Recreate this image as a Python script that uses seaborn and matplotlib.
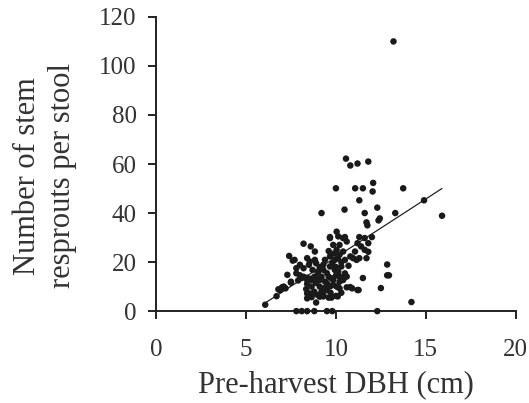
import numpy as np
import pandas as pd
import seaborn as sns
import matplotlib.pyplot as plt

# values: pre-harvest DBH (cm) and resprouts per stool
dbh = [13.2, 10.56, 10.8, 11.2, 11.8, 10.0, 11.07, 11.5, 12.07, 12.04, 13.74, 11.3, 14.9,
       10.48, 9.2, 11.6, 12.3, 13.3, 15.9, 12.44, 12.37, 11.7, 11.75, 11.3, 12.0, 11.8, 11.8,
       8.2, 8.6, 7.4, 7.7, 9.67, 10.04, 10.5, 12.85, 12.85, 12.95, 12.5, 11.5, 11.26,
       6.07, 14.2, 7.8, 8.1, 8.4, 8.8, 9.5, 9.8, 12.3,
       6.7, 6.9, 7.1, 7.5, 8.4, 8.55, 8.75, 8.9, 9.0, 9.2, 9.3, 9.6, 9.75, 10.8, 8.35,
       6.8, 7.0, 7.2, 7.5, 7.6,
       7.8, 8.0, 8.2, 8.4, 8.6, 8.8, 9.0,
       8.2, 8.5, 8.7, 8.9, 9.1, 9.3,
       8.4, 8.65, 8.8, 9.1, 9.3, 9.5, 9.7, 9.85, 10.2, 10.6, 10.9, 11.2,
       8.4, 8.65,
       9.1, 9.4, 9.6, 9.75,
       9.39, 9.67, 9.94, 10.2, 10.04, 9.85, 9.67, 10.13, 10.2, 10.4, 10.6, 10.4, 10.5, 10.8,
       10.96, 11.15, 11.3, 11.06, 11.2, 11.4, 11.6, 11.6, 11.7,
       8.55, 8.83, 9.0, 9.3,
       8.4, 8.65,
       9.1, 9.5, 9.85, 10.04,
       9.67, 9.94, 10.13, 10.3, 10.2,
       10.5, 10.6, 10.4, 10.2,
       8.83, 8.4, 8.0, 7.8,
       10.1, 10.1, 10.0, 10.45, 10.5,
       9.8, 10.0, 10.1, 9.9, 10.3, 9.6, 10.7, 10.0, 9.5, 9.2, 9.0, 8.9, 9.4, 9.7, 10.3,
       8.1, 7.3, 7.9]
sprouts = [110, 62.2, 59.4, 60.2, 61, 50.1, 50.1, 50.1, 52.3, 48.8, 50.1, 45.2, 45.2,
           41.4, 40, 40, 42.2, 40, 38.9, 37.8, 37, 36.2, 35, 30.2, 30.2, 27.7, 24.2,
           27.5, 26.4, 22.5, 20.9, 30.2, 32.4, 30.2, 19, 14.6, 14.6, 9.4, 13.5, 8.6,
           2.6, 3.7, 0, 0, 0, 0, 0, 0, 0,
           6.1, 8.5, 10, 11.6, 7.2, 7.2, 7.2, 3.5, 6.5, 8, 6, 5.5, 5.5, 9.8, 9,
           8.9, 9.7, 9.3, 12, 20.6,
           15.4, 14.6, 14, 13.6, 13.2, 14, 15.4,
           17.5, 18.9, 16.8, 19.5, 17.9, 16.8,
           11.1, 10, 7.9, 5.9, 6.6, 8.6, 10.2, 12.7, 9.3, 9.7, 9.3, 8.6,
           5.2, 5.7,
           12.7, 12, 14, 13.4,
           20.9, 22.3, 20.9, 23, 25, 27, 29.8, 30.5, 27, 24.3, 28.4, 29.8, 20.9, 22.3,
           21.6, 20.9, 21.6, 24.3, 27.7, 26.4, 29.8, 25, 21.6,
           20.2, 20.9, 16.1, 18.9,
           12.7, 12.7,
           10, 11.4, 10.7, 10,
           18.2, 16.8, 16.1, 18.2, 14.1,
           15.4, 14.1, 12.7, 12,
           24.3, 21.6, 18.9, 17.5,
           10, 6, 6.2, 13.5, 14.8,
           19.5, 18, 21.5, 23.5, 20, 24.5, 18.5, 14.5, 15.5, 14, 13, 11.5, 9.5, 7.5, 7.5,
           13.5, 14.8, 12.5]

# fitted line as drawn in the figure
fit_x = np.array([6.06, 15.9])
fit_slope = 4.75
fit_intercept = -25.5

df = pd.DataFrame({"dbh": dbh, "sprouts": sprouts})

sns.set_theme(style="ticks")
plt.rcParams["font.family"] = ["Liberation Serif", "DejaVu Serif"]

fig = plt.figure(figsize=(5.29, 4.03), dpi=100)
ax = fig.add_axes([0.295, 0.228, 0.68, 0.73])

sns.lineplot(x=fit_x, y=fit_intercept + fit_slope * fit_x, color="#222222",
             linewidth=0.9, ax=ax)
sns.scatterplot(data=df, x="dbh", y="sprouts", color="#1a1a1a", s=22,
                edgecolor="none", ax=ax, clip_on=False, zorder=3)

ax.set_xlim(0, 20)
ax.set_ylim(0, 120)
ax.set_xticks([0, 5, 10, 15, 20])
ax.set_yticks(range(0, 121, 20))
sns.despine(ax=ax)
for sp in ["left", "bottom"]:
    ax.spines[sp].set_linewidth(1.4)
    ax.spines[sp].set_color("#222222")
ax.tick_params(axis="both", direction="out", length=6, width=1.4, colors="#222222",
               labelsize=18, labelcolor="#333333")
ax.tick_params(axis="x", pad=14)
ax.tick_params(axis="y", pad=8)

ax.set_xlabel("Pre-harvest DBH (cm)", fontsize=22, color="#333333", labelpad=7)
ax.set_ylabel("Number of stem\nresprouts per stool", fontsize=22, color="#333333",
              linespacing=1.25)
ax.yaxis.set_label_coords(-0.22, 0.46)

fig.savefig("out.png", dpi=100, facecolor="white")
